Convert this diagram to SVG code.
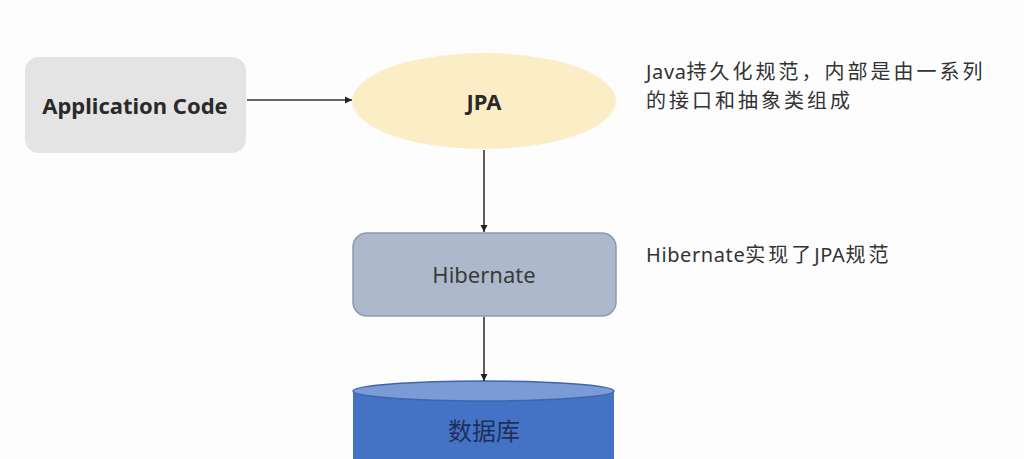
<svg xmlns="http://www.w3.org/2000/svg" width="1024" height="459" viewBox="0 0 1024 459">
  <defs>
    <marker id="arr" markerWidth="8" markerHeight="8" refX="7" refY="4" orient="auto" markerUnits="userSpaceOnUse">
      <path d="M0,0.5 L7,4 L0,7.5 Z" fill="#222"/>
    </marker>
  </defs>
  <style>
    .lbl { font-family: "Noto Sans", "Noto Sans CJK SC", sans-serif; text-anchor: middle; }
    .note { font-family: "Noto Sans", "Noto Sans CJK SC", sans-serif; font-size: 20px; fill: #333; }
    .cjk { letter-spacing: 3px; }
    .lat { letter-spacing: 0.6px; }
    .conn { stroke: #333; stroke-width: 1.6; fill: none; marker-end: url(#arr); }
  </style>
  <rect width="1024" height="459" fill="#fdfdfd"/>
  <g id="app">
    <rect x="25" y="57" width="221" height="96" rx="14" fill="#e4e4e4"/>
    <text class="lbl" x="135" y="114" font-size="22" font-weight="bold" fill="#2a2a2a">Application Code</text>
  </g>
  <g id="jpa">
    <ellipse cx="484" cy="101" rx="132" ry="48" fill="#fbeec6"/>
    <text class="lbl" x="484" y="110" font-size="22" font-weight="bold" fill="#2a2a2a">JPA</text>
  </g>
  <g id="hibernate">
    <rect x="353" y="233" width="263" height="83" rx="14" fill="#adb9ca" stroke="#8a9ab3" stroke-width="1.5"/>
    <text class="lbl" x="484" y="283" font-size="22" fill="#3a3a3a">Hibernate</text>
  </g>
  <g id="db">
    <path d="M353,391 L353,470 L614,470 L614,391 Z" fill="#4472c4"/>
    <ellipse cx="483.5" cy="391" rx="130.5" ry="10" fill="#7b9bd6" stroke="#3f66ad" stroke-width="1.5"/>
    <text class="lbl" x="484" y="440" font-size="24" fill="#1e2f5c" font-family="'Noto Sans CJK SC', sans-serif">数据库</text>
  </g>
  <g id="notes">
    <text class="note" x="646" y="79"><tspan class="lat">Java</tspan><tspan class="cjk">持久化规范，内部是由一系列</tspan></text>
    <text class="note" x="646" y="108"><tspan class="cjk">的接口和抽象类组成</tspan></text>
    <text class="note" x="646" y="262"><tspan class="lat">Hibernate</tspan><tspan class="cjk">实现了</tspan><tspan class="lat">JPA</tspan><tspan class="cjk">规范</tspan></text>
  </g>
  <g id="connectors">
    <line class="conn" x1="247" y1="100" x2="352" y2="100"/>
    <line class="conn" x1="484" y1="150" x2="484" y2="232"/>
    <line class="conn" x1="484" y1="317" x2="484" y2="381"/>
  </g>
</svg>
